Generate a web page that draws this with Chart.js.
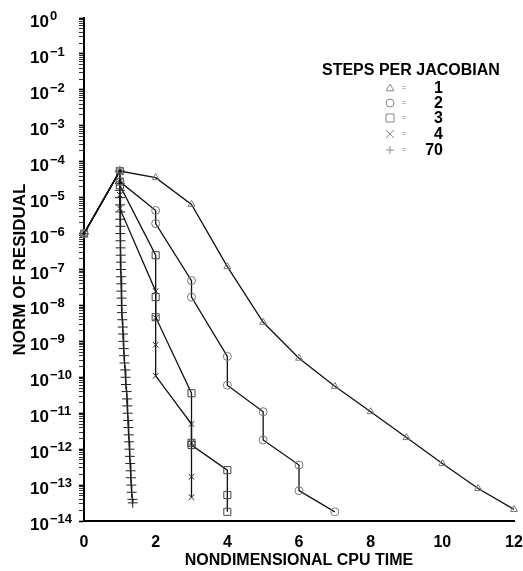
<!DOCTYPE html>
<html>
<head>
<meta charset="utf-8">
<script src="https://cdn.jsdelivr.net/npm/chart.js@4.4.1/dist/chart.umd.min.js"></script>
<style>
  html, body { margin: 0; padding: 0; background: #fff; }
  #wrap { width: 523px; height: 571px; }
</style>
</head>
<body>
<div id="wrap"><canvas id="chart1" width="523" height="571"></canvas></div>
<script>
  // x = nondimensional CPU time, y = norm of residual
  const s1X = [0, 1, 2, 3, 4, 5, 6, 7, 8, 9, 10, 11, 12];
  const s1Y = [1e-6, 5.5e-5, 3.6e-5, 6.5e-6, 1.2e-7, 3.4e-9, 3.4e-10, 5.6e-11, 1.1e-11, 2.1e-12, 4e-13, 8e-14, 2.1e-14];

  const s2X = [0, 1, 1, 2, 2, 3, 3, 4, 4, 5, 5, 6, 6, 7];
  const s2Y = [1e-6, 5.5e-5, 2.8e-5, 4.4e-6, 1.9e-6, 4.9e-8, 1.7e-8, 3.8e-10, 6e-11, 1.1e-11, 1.8e-12, 3.6e-13, 7e-14, 1.8e-14];

  const s3X = [0, 1, 1, 1, 2, 2, 2, 3, 3, 3, 4, 4, 4];
  const s3Y = [1e-6, 5.5e-5, 2.8e-5, 2.2e-5, 2.5e-7, 1.7e-8, 4.7e-9, 3.6e-11, 1.5e-12, 1.3e-12, 2.6e-13, 5.3e-14, 1.8e-14];

  const s4X = [0, 1, 1, 1, 1, 2, 2, 2, 2, 3, 3, 3, 3];
  const s4Y = [1e-6, 5.5e-5, 2.8e-5, 1.2e-5, 5e-6, 2.5e-8, 4.5e-9, 8e-10, 1.1e-10, 5e-12, 1.5e-12, 1.7e-13, 4.6e-14];

  const s70X = [0, 1, 1.0, 1.0, 1.005, 1.005, 1.01, 1.01, 1.015, 1.015, 1.02, 1.02, 1.025, 1.03, 1.03, 1.035,
                1.04, 1.045, 1.05, 1.055, 1.06, 1.07, 1.08, 1.09, 1.10, 1.11, 1.12, 1.13, 1.15, 1.16, 1.17, 1.19,
                1.20, 1.21, 1.22, 1.23, 1.24, 1.25, 1.26, 1.27, 1.28, 1.29, 1.30, 1.31, 1.32, 1.33, 1.35, 1.36];
  const s70Y = [1e-6, 5.5e-5, 2.5e-5, 1.6e-5, 1e-5, 6.3e-6, 4e-6, 2.5e-6, 1.6e-6, 1e-6, 6.3e-7, 4e-7, 2.5e-7, 1.6e-7, 1e-7, 6.3e-8,
                4e-8, 2.5e-8, 1.6e-8, 1e-8, 6.3e-9, 4e-9, 2.5e-9, 1.6e-9, 1e-9, 6.3e-10, 4e-10, 2.5e-10, 1.6e-10, 1e-10, 6.3e-11, 4e-11,
                2.5e-11, 1.6e-11, 1e-11, 6.3e-12, 4e-12, 2.5e-12, 1.6e-12, 1e-12, 6.3e-13, 4e-13, 2.5e-13, 1.6e-13, 1e-13, 6.3e-14, 4e-14, 3.2e-14];

  const xTicks = [0, 2, 4, 6, 8, 10, 12];
  const yDecades = [0, -1, -2, -3, -4, -5, -6, -7, -8, -9, -10, -11, -12, -13, -14];
  const minorMult = [2, 3, 4, 5, 6, 7, 8, 9];

  const legendTitle = 'STEPS PER JACOBIAN';
  const legendLabels = ['1', '2', '3', '4', '70'];
  const legendStyles = ['triangle', 'circle', 'rect', 'crossRot', 'cross'];

  const FONT = '"Liberation Sans", Arial, Helvetica, sans-serif';
  const ink = '#111';
  const markGrey = '#777';

  function pts(xs, ys) {
    return xs.map((x, i) => ({ x: x, y: ys[i] }));
  }

  function series(label, xs, ys, style, radius, color) {
    return {
      label: label,
      data: pts(xs, ys),
      showLine: true,
      borderColor: ink,
      borderWidth: 1.3,
      pointStyle: style,
      pointRadius: radius,
      pointBorderColor: color,
      pointBackgroundColor: 'rgba(0,0,0,0)',
      pointBorderWidth: 1,
      clip: false
    };
  }

  // superscript tick labels and the legend block
  const paperText = {
    id: 'paperText',
    afterDraw(chart) {
      const ctx = chart.ctx;
      const y = chart.scales.y;
      ctx.save();
      ctx.fillStyle = '#000';
      ctx.textAlign = 'left';
      ctx.textBaseline = 'alphabetic';
      yDecades.forEach(e => {
        const py = y.getPixelForValue(Math.pow(10, e));
        ctx.font = 'bold 17px ' + FONT;
        ctx.fillText('10', 30, py + 9);
        const w = ctx.measureText('10').width;
        ctx.font = 'bold 13px ' + FONT;
        ctx.fillText(e === 0 ? '0' : '\u2212' + Math.abs(e), 30 + w + 1, py + 2);
      });

      ctx.font = 'bold 16px ' + FONT;
      ctx.fillText(legendTitle, 322, 75);
      const rows = [88, 103, 118, 134, 150];
      legendLabels.forEach((lab, i) => {
        const ry = rows[i];
        ctx.textAlign = 'right';
        ctx.textBaseline = 'middle';
        ctx.font = 'bold 16px ' + FONT;
        ctx.fillStyle = '#000';
        ctx.fillText(lab, 443, ry + 1);
        ctx.font = '9px ' + FONT;
        ctx.fillStyle = '#888';
        ctx.textAlign = 'center';
        ctx.fillText('=', 404, ry);
        ctx.strokeStyle = '#888';
        ctx.lineWidth = 1;
        drawMark(ctx, legendStyles[i], 390, ry, 4);
      });
      ctx.restore();
    }
  };

  function drawMark(ctx, style, x, y, r) {
    ctx.beginPath();
    if (style === 'triangle') {
      ctx.moveTo(x - r, y + r * 0.7);
      ctx.lineTo(x + r, y + r * 0.7);
      ctx.lineTo(x, y - r);
      ctx.closePath();
    } else if (style === 'circle') {
      ctx.arc(x, y, r, 0, Math.PI * 2);
    } else if (style === 'rect') {
      ctx.rect(x - r, y - r, 2 * r, 2 * r);
    } else if (style === 'crossRot') {
      ctx.moveTo(x - r, y - r); ctx.lineTo(x + r, y + r);
      ctx.moveTo(x + r, y - r); ctx.lineTo(x - r, y + r);
    } else {
      ctx.moveTo(x - r, y); ctx.lineTo(x + r, y);
      ctx.moveTo(x, y - r); ctx.lineTo(x, y + r);
    }
    ctx.stroke();
  }

  const ctx = document.getElementById('chart1').getContext('2d');

  new Chart(ctx, {
    type: 'scatter',
    data: {
      datasets: [
        series('1', s1X, s1Y, 'triangle', 4, markGrey),
        series('2', s2X, s2Y, 'circle', 4, markGrey),
        series('3', s3X, s3Y, 'rect', 5, '#444'),
        series('4', s4X, s4Y, 'crossRot', 4, '#222'),
        series('70', s70X, s70Y, 'cross', 5, '#222')
      ]
    },
    options: {
      responsive: false,
      animation: false,
      devicePixelRatio: 1,
      layout: { padding: { top: 18, right: 9, bottom: 0, left: 0 } },
      plugins: {
        legend: { display: false },
        tooltip: { enabled: false }
      },
      scales: {
        x: {
          type: 'linear',
          min: 0,
          max: 12,
          afterBuildTicks: (scale) => {
            scale.ticks = xTicks.map(v => ({ value: v }));
          },
          afterFit: (scale) => {
            scale.height = 50;
            scale.paddingLeft = 0;
            scale.paddingRight = 0;
          },
          grid: { display: false, drawTicks: false },
          border: { display: true, color: '#000', width: 2 },
          ticks: {
            color: '#000',
            padding: 12,
            font: { family: FONT, size: 16, weight: 'bold' },
            maxRotation: 0
          },
          title: {
            display: true,
            text: 'NONDIMENSIONAL CPU TIME',
            color: '#000',
            font: { family: FONT, size: 16, weight: 'bold' },
            padding: { top: 0, bottom: 1 }
          }
        },
        y: {
          type: 'logarithmic',
          min: 1e-14,
          max: 1,
          afterBuildTicks: (scale) => {
            const t = [];
            yDecades.forEach(e => {
              t.push({ value: Math.pow(10, e), major: true });
              if (e < 0) minorMult.forEach(m => t.push({ value: m * Math.pow(10, e), major: false }));
            });
            scale.ticks = t;
          },
          afterFit: (scale) => { scale.width = 84; },
          grid: {
            drawOnChartArea: false,
            drawTicks: true,
            tickLength: 5,
            color: '#000',
            tickWidth: (c) => (c.tick && c.tick.major ? 1.6 : 0.8)
          },
          border: { display: true, color: '#000', width: 2 },
          ticks: {
            autoSkip: false,
            padding: 0,
            callback: () => ''
          },
          title: {
            display: true,
            text: 'NORM OF RESIDUAL',
            color: '#000',
            font: { family: FONT, size: 17, weight: 'bold' },
            padding: { top: 10, bottom: 0 }
          }
        }
      }
    },
    plugins: [paperText]
  });
</script>
</body>
</html>
